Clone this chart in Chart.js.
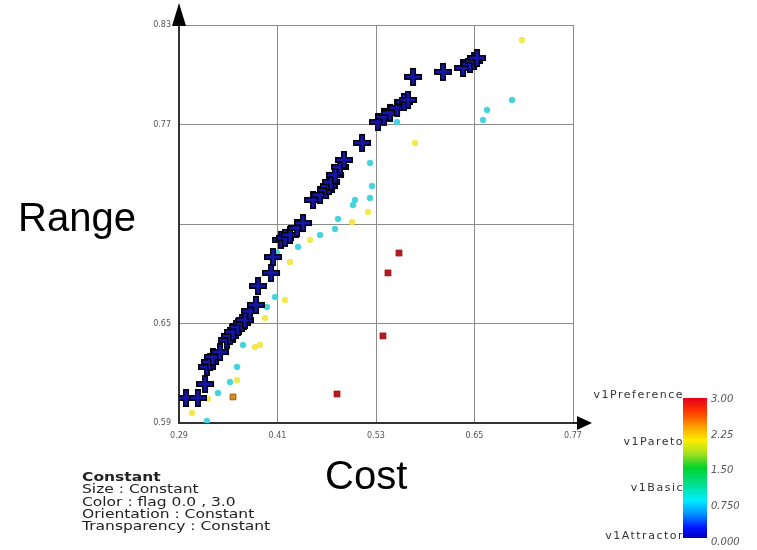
<!DOCTYPE html>
<html>
<head>
<meta charset="utf-8">
<script src="https://cdn.jsdelivr.net/npm/chart.js@4.4.1/dist/chart.umd.min.js"></script>
<style>
  html, body { margin: 0; padding: 0; background: #fff; }
  #wrap { position: relative; width: 757px; height: 550px; overflow: hidden; background: #fff; }
  #c { position: absolute; left: 0; top: 0; }
  .big { position: absolute; font-family: "Liberation Sans", Arial, sans-serif; font-size: 40px; color: #000; line-height: 1; white-space: nowrap; }
  #note { position: absolute; left: 82px; top: 471px; font-family: "DejaVu Sans", sans-serif; font-size: 12.5px; line-height: 12.3px; color: #222; white-space: nowrap; transform: scaleX(1.24); transform-origin: left top; }
  #note b { font-weight: bold; }
  #cbar { position: absolute; left: 683px; top: 398px; width: 24px; height: 140px;
    background: linear-gradient(to bottom, #e4001c 0%, #ff3a00 10%, #ff9a00 20%, #ffee00 30%, #a0e020 40%, #00d22c 50%, #00e090 62%, #00eeff 73%, #0090ff 83%, #0010ff 93%, #0000b8 100%); }
  .cl { position: absolute; font-family: "DejaVu Sans", sans-serif; font-size: 11px; color: #333; white-space: nowrap; letter-spacing: 1.5px; }
  .cr { position: absolute; left: 711px; font-family: "DejaVu Sans", sans-serif; font-style: italic; font-size: 10px; color: #555; white-space: nowrap; }
</style>
</head>
<body>
<div id="wrap">
  <canvas id="c" width="757" height="550"></canvas>
  <div class="big" style="left:18px; top:197px;">Range</div>
  <div class="big" style="left:325px; top:455px;">Cost</div>
  <div id="note"><b>Constant</b><br>Size : Constant<br>Color : flag 0.0 , 3.0<br>Orientation : Constant<br>Transparency : Constant</div>
  <div id="cbar"></div>
  <div class="cl" style="right:73px; top:388px;">v1Preference</div>
  <div class="cl" style="right:73px; top:435px;">v1Pareto</div>
  <div class="cl" style="right:73px; top:481px;">v1Basic</div>
  <div class="cl" style="right:73px; top:529px;">v1Attractor</div>
  <div class="cr" style="top:393px;">3.00</div>
  <div class="cr" style="top:429px;">2.25</div>
  <div class="cr" style="top:464px;">1.50</div>
  <div class="cr" style="top:500px;">0.750</div>
  <div class="cr" style="top:536px;">0.000</div>
</div>
<script>
// ---- data (Cost, Range) ----
const xTicks = [0.29, 0.41, 0.53, 0.65, 0.77];
const yTicks = [0.59, 0.65, 0.71, 0.77, 0.83];
const yTickLabels = ["0.59", "0.65", "", "0.77", "0.83"];
const xTickLabels = ["0.29", "0.41", "0.53", "0.65", "0.77"];

// v1Attractor (plus markers)
const attractorCost  = [0.2985,0.3131,0.3217,0.3241,0.3278,0.3314,0.3400,0.3485,0.3521,0.3558,0.3619,0.3668,0.3704,0.3765,0.3838,0.3862,0.4021,0.4045,0.4143,0.4191,0.4252,0.4338,0.4411,0.4533,0.4618,0.4691,0.4727,0.4752,0.4801,0.4862,0.4910,0.5130,0.5324,0.5398,0.5471,0.5556,0.5641,0.5690,0.5751,0.6116,0.6360,0.6445,0.6494,0.6531];
const attractorRange = [0.6051,0.6051,0.6135,0.6238,0.6268,0.6298,0.6328,0.6401,0.6425,0.6449,0.6479,0.6503,0.6521,0.6575,0.6612,0.6726,0.6805,0.6901,0.7004,0.7016,0.7034,0.7076,0.7106,0.7245,0.7275,0.7305,0.7329,0.7354,0.7396,0.7444,0.7486,0.7589,0.7715,0.7746,0.7770,0.7800,0.7836,0.7848,0.7987,0.8017,0.8041,0.8065,0.8083,0.8101];

// v1Basic (cyan dots)
const basicCost  = [0.3241,0.3375,0.3521,0.3607,0.3680,0.3972,0.4070,0.4094,0.4350,0.4618,0.4801,0.4837,0.5020,0.5044,0.5227,0.5251,0.5227,0.5556,0.6604,0.6652,0.6957];
const basicRange = [0.5912,0.6081,0.6147,0.6238,0.6370,0.6600,0.6660,0.6925,0.6962,0.7034,0.7070,0.7130,0.7215,0.7245,0.7257,0.7329,0.7468,0.7715,0.7727,0.7788,0.7848];

// v1Pareto (yellow dots)
const paretoCost  = [0.3058,0.3253,0.3607,0.3826,0.3887,0.3948,0.4191,0.4252,0.4496,0.5008,0.5203,0.5775,0.7079,0.6116];
const paretoRange = [0.5960,0.6045,0.6159,0.6358,0.6370,0.6533,0.6642,0.6871,0.7004,0.7112,0.7173,0.7589,0.8210,0.8017];

// orange dot
const midCost  = [0.3558];
const midRange = [0.6057];

// v1Preference (red dots)
const prefCost  = [0.5580,0.5446,0.5385,0.4825];
const prefRange = [0.6925,0.6805,0.6425,0.6075];

const pts = (xs, ys) => xs.map((x, i) => ({x: x, y: ys[i]}));

// plus marker image
function plusImage() {
  const c = document.createElement('canvas');
  c.width = 22; c.height = 22;
  const g = c.getContext('2d');
  g.lineCap = 'butt';
  g.strokeStyle = '#000';
  g.lineWidth = 6;
  g.beginPath(); g.moveTo(2, 11); g.lineTo(20, 11); g.moveTo(11, 2); g.lineTo(11, 20); g.stroke();
  g.strokeStyle = '#1616a8';
  g.lineWidth = 3.2;
  g.beginPath(); g.moveTo(3.5, 11); g.lineTo(18.5, 11); g.moveTo(11, 3.5); g.lineTo(11, 18.5); g.stroke();
  return c;
}
const plusImg = plusImage();

const arrows = {
  id: 'arrows',
  afterDraw(chart) {
    const ctx = chart.ctx, a = chart.chartArea;
    ctx.save();
    ctx.fillStyle = '#000';
    ctx.strokeStyle = '#222';
    ctx.lineWidth = 2;
    // y axis arrow
    ctx.beginPath(); ctx.moveTo(a.left, a.top); ctx.lineTo(a.left, a.top - 8); ctx.stroke();
    ctx.beginPath(); ctx.moveTo(a.left, a.top - 22); ctx.lineTo(a.left - 7, a.top + 1); ctx.lineTo(a.left + 7, a.top + 1); ctx.closePath(); ctx.fill();
    // x axis arrow
    ctx.beginPath(); ctx.moveTo(a.right, a.bottom); ctx.lineTo(a.right + 8, a.bottom); ctx.stroke();
    ctx.beginPath(); ctx.moveTo(a.right + 19, a.bottom); ctx.lineTo(a.right + 4, a.bottom - 7); ctx.lineTo(a.right + 4, a.bottom + 7); ctx.closePath(); ctx.fill();
    ctx.restore();
  }
};

new Chart(document.getElementById('c'), {
  type: 'scatter',
  data: {
    datasets: [
      { label: 'v1Attractor', data: pts(attractorCost, attractorRange), pointStyle: plusImg, order: 0 },
      { label: 'v1Pareto', data: pts(paretoCost, paretoRange), pointStyle: 'circle', radius: 3, backgroundColor: '#f2ea4a', borderColor: '#efe44a', borderWidth: 0.5, order: 1 },
      { label: 'v1Basic', data: pts(basicCost, basicRange), pointStyle: 'circle', radius: 3, backgroundColor: '#44d4dc', borderColor: '#44d0d8', borderWidth: 0.5, order: 2 },
      { label: 'mid', data: pts(midCost, midRange), pointStyle: 'rect', radius: 4, backgroundColor: '#d8901c', borderColor: '#a05010', borderWidth: 1, order: 2 },
      { label: 'v1Preference', data: pts(prefCost, prefRange), pointStyle: 'rect', radius: 4.4, backgroundColor: '#b41c24', borderColor: '#a01820', borderWidth: 0.5, order: 2 }
    ]
  },
  options: {
    responsive: false,
    animation: false,
    events: [],
    layout: { padding: { left: 149, top: 25, right: 184, bottom: 107 } },
    plugins: { legend: { display: false }, tooltip: { enabled: false } },
    scales: {
      x: {
        type: 'linear', min: 0.29, max: 0.77,
        afterBuildTicks: s => { s.ticks = xTicks.map(v => ({ value: v })); },
        afterFit: s => { s.height = 20; },
        ticks: { callback: (v, i) => xTickLabels[i], font: { family: 'DejaVu Sans', size: 8 }, color: '#555', padding: 8, maxRotation: 0, autoSkip: false },
        grid: { color: '#8c8c8c', lineWidth: 1, drawTicks: false },
        border: { display: true, color: '#333', width: 2 }
      },
      y: {
        type: 'linear', min: 0.59, max: 0.83,
        afterBuildTicks: s => { s.ticks = yTicks.map(v => ({ value: v })); },
        afterFit: s => { s.width = 30; },
        ticks: { callback: (v, i) => yTickLabels[i], font: { family: 'DejaVu Sans', size: 8 }, color: '#555', padding: 8, autoSkip: false },
        grid: { color: '#8c8c8c', lineWidth: 1, drawTicks: false },
        border: { display: true, color: '#333', width: 2 }
      }
    }
  },
  plugins: [arrows]
});
</script>
</body>
</html>
